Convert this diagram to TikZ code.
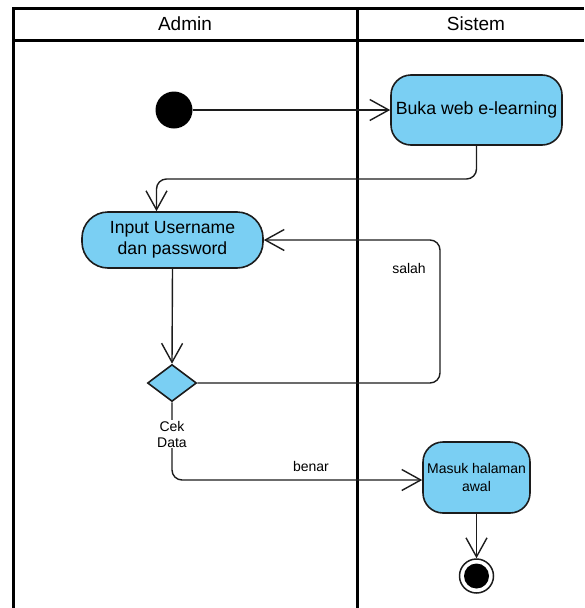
\documentclass[tikz,border=0pt]{standalone}
\usepackage{fontspec}
\setmainfont{Liberation Sans}
\usetikzlibrary{arrows.meta,shapes.geometric}
\definecolor{actfill}{RGB}{122,207,243}
\definecolor{ink}{RGB}{28,28,28}
\begin{document}
\begin{tikzpicture}[x=1pt,y=-1pt,
  lane/.style={line width=3pt,black},
  lanehead/.style={font=\fontsize{19}{22}\selectfont,text=black},
  action/.style={draw=ink,fill=actfill,line width=1.6pt,rectangle,align=center,
    inner sep=0pt,text=black},
  decision/.style={draw=ink,fill=actfill,line width=1.6pt,diamond,inner sep=0pt,
    minimum width=49pt,minimum height=37pt},
  flow/.style={draw=ink,line width=1.4pt,rounded corners=10pt,
    -{Straight Barb[length=19pt,width=21pt,line width=1.4pt]}},
  guard/.style={font=\fontsize{14}{16}\selectfont,text=black,align=center},
]
\useasboundingbox (0,0) rectangle (584,608);

% swimlane frame
\draw[lane] (584,8.5) -- (13.5,8.5) -- (13.5,608);
\draw[lane] (13.5,40) -- (584,40);
\draw[lane] (357,8.5) -- (357,608);
\node[lanehead] (hadmin) at (185,24) {Admin};
\node[lanehead] (hsistem) at (476,24) {Sistem};

% activity nodes
\node[circle,fill=black,minimum size=37pt,inner sep=0pt] (start) at (174,110) {};
\node[action,rounded corners=20pt,minimum width=171pt,minimum height=70pt,
  font=\fontsize{17.7}{20}\selectfont] (buka) at (476.5,110) {Buka web e-learning};
\node[action,rounded corners=26pt,minimum width=181pt,minimum height=56pt,
  font=\fontsize{17.6}{20.5}\selectfont] (input) at (172.5,240) {Input Username\\dan password};
\node[decision] (cek) at (172,383) {};
\node[action,rounded corners=20pt,minimum width=107pt,minimum height=71pt,
  font=\fontsize{14}{18}\selectfont] (masuk) at (476.5,477.5) {Masuk halaman\\awal};
\node[circle,draw=ink,line width=1.5pt,fill=white,minimum size=34pt,inner sep=0pt] (final) at (476.5,576) {};
\node[circle,fill=black,minimum size=25pt,inner sep=0pt] (finaldot) at (final.center) {};

% control flow
\draw[flow] (start.east) -- (buka.west);
\draw[flow] (buka.south) -- (476.5,179) -| ([xshift=-16pt]input.north);
\draw[flow] (input.south) -- (cek.north);
\draw[flow] (cek.east) -- (440,383) -- (440,240) -- (input.east);
\draw[flow] (cek.south) -- (172,480) -- (masuk.west |- 0,480);
\draw[flow] (masuk.south) -- (final.north);

% guards
\node[guard] (salah) at (409,268) {salah};
\node[guard] (benar) at (311,466) {benar};
\node[guard,fill=white,inner sep=1pt] (cekdata) at (172,434) {Cek\\Data};
\end{tikzpicture}
\end{document}
